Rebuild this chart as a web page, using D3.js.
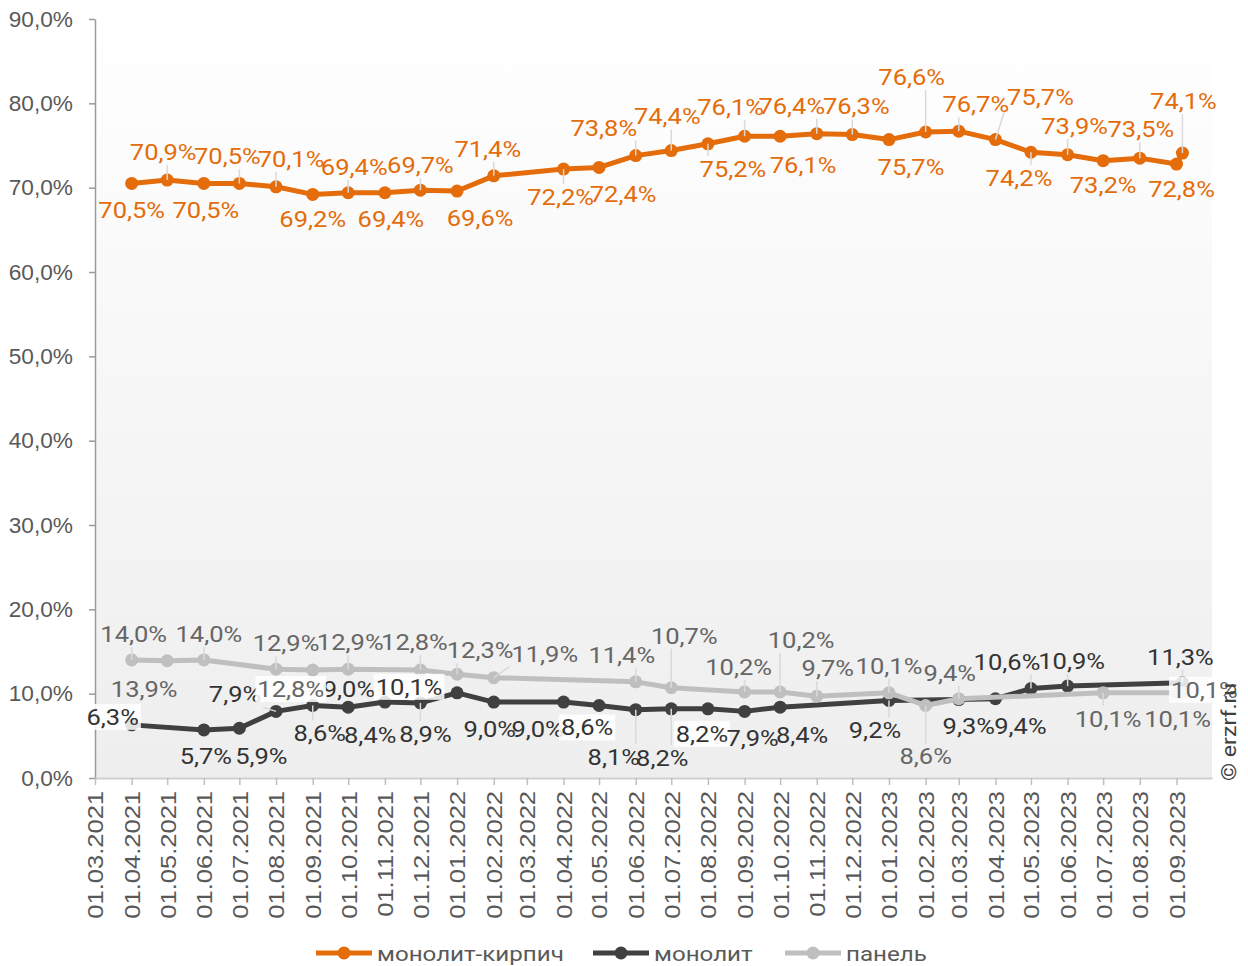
<!DOCTYPE html>
<html>
<head>
<meta charset="utf-8">
<script src="https://cdn.jsdelivr.net/npm/d3@7"></script>
<style>
body { margin: 0; background: #fff; }
svg { display: block; font-family: Roboto, sans-serif; }
</style>
</head>
<body>
<svg id="chart" width="1248" height="966"></svg>
<script>
// axis categories
var tickDates = ['01.03.2021', '01.04.2021', '01.05.2021', '01.06.2021', '01.07.2021', '01.08.2021',
    '01.09.2021', '01.10.2021', '01.11.2021', '01.12.2021', '01.01.2022', '01.02.2022', '01.03.2022',
    '01.04.2022', '01.05.2022', '01.06.2022', '01.07.2022', '01.08.2022', '01.09.2022', '01.10.2022',
    '01.11.2022', '01.12.2022', '01.01.2023', '01.02.2023', '01.03.2023', '01.04.2023', '01.05.2023',
    '01.06.2023', '01.07.2023', '01.08.2023', '01.09.2023'];
var pointDates = tickDates.slice(1).concat(['06.09.2023']);
var yTicks = [0, 10, 20, 30, 40, 50, 60, 70, 80, 90];

// series values, % (null = no point)
var monolitKirpich = [70.5, 70.9, 70.5, 70.5, 70.1, 69.2, 69.4, 69.4, 69.7, 69.6, 71.4, null, 72.2, 72.4,
    73.8, 74.4, 75.2, 76.1, 76.1, 76.4, 76.3, 75.7, 76.6, 76.7, 75.7, 74.2, 73.9, 73.2, 73.5, 72.8, 74.1];
var monolit = [6.3, null, 5.7, 5.9, 7.9, 8.6, 8.4, 9.0, 8.9, 10.1, 9.0, null, 9.0, 8.6,
    8.1, 8.2, 8.2, 7.9, 8.4, null, null, 9.2, null, 9.3, 9.4, 10.6, 10.9, null, null, null, 11.3];
var panel = [14.0, 13.9, 14.0, null, 12.9, 12.8, 12.9, null, 12.8, 12.3, 11.9, null, null, null,
    11.4, 10.7, null, 10.2, 10.2, 9.7, null, 10.1, 8.6, 9.4, null, null, null, 10.1, null, 10.1, 10.1];
var seriesNames = ['монолит-кирпич', 'монолит', 'панель'];

// label placement (offset of label centre from its point)
var kirpichLabelPos = [[0, 27], [-4, -28], [2, 27], [-12, -27], [15, -28], [0, 25], [6, -26], [6, 26],
    [0, -25], [23, 27], [-6, -27], null, [-3, 28], [24, 27], [-32, -28], [-4, -34], [25, 25], [-14, -29],
    [23, 29], [-25, -28], [4, -28], [22, 27], [-14, -55], [17, -27], [45, -43], [-12, 26], [7, -29],
    [0, 24], [1, -29], [5, 25], [1, -52]];
var monolitLabelPos = [[-19, -8], null, [2, 26], [22, 28], [-41, -17], [7, 28], [22, 28], [-36, -13],
    [5, 31], [-48, -6], [-4, 27], null, [-26, 27], [-12, 22], [-22, 47], [-9, 49], [-6, 25], [8, 27],
    [22, 28], null, null, [-14, 30], null, [10, 27], [25, 27], [-24, -27], [4, -25], null, null, null, [-2, -26]];
var panelLabelPos = [[2, -26], [-23, 28], [5, -26], null, [10, -26], [-22, 19], [2, -27], null, [-6, -28],
    [23, -24], [51, -24], null, null, null, [-14, -27], [13, -52], null, [-6, -25], [21, -52], [11, -28],
    null, [0, -27], [0, 51], [-9, -26], null, null, null, [5, 26], null, [1, 26], [22, -3]];
var kirpichLeaders = [1, 3, 4, 6, 8, 10, 12, 14, 15, 16, 17, 19, 20, 22, 23, 24, 25, 26, 28, 30];
var monolitLeaders = [4, 5, 8, 14, 15, 21, 25, 26, 30];
var panelLeaders = [0, 2, 4, 6, 8, 9, 10, 14, 15, 17, 18, 19, 21, 22, 23, 27];
var monolitBoxed = [0, 9, 13, 16];
var panelBoxed = [5, 30];

var parseDate = d3.utcParse('%d.%m.%Y');
var fmt = function(v) { return v.toFixed(1).replace('.', ',') + '%'; };
var S = 1.16; // the source font is wider than Roboto
var SY = 1.03;

var svg = d3.select('#chart');
var plot = {left: 95, right: 1212, top: 19, bottom: 778};

var x = d3.scaleUtc()
    .domain([parseDate('01.03.2021'), parseDate('01.10.2023')])
    .range([plot.left, plot.right]);
var y = d3.scaleLinear()
    .domain([0, 90])
    .range([plot.bottom, plot.top]);

// plot background
var grad = svg.append('defs').append('linearGradient')
    .attr('id', 'bg')
    .attr('x1', 0).attr('y1', 0).attr('x2', 0).attr('y2', 1);
grad.append('stop').attr('offset', '0%').attr('stop-color', '#ffffff');
grad.append('stop').attr('offset', '100%').attr('stop-color', '#eeeeee');
svg.append('rect')
    .attr('x', plot.left).attr('y', plot.top)
    .attr('width', plot.right - plot.left)
    .attr('height', plot.bottom - plot.top)
    .attr('fill', 'url(#bg)');

// axes
var yAxis = svg.append('g')
    .attr('transform', 'translate(' + plot.left + ',0)')
    .call(d3.axisLeft(y).tickValues(yTicks).tickSize(6).tickSizeOuter(0)
        .tickFormat(function(d) { return d.toFixed(1).replace('.', ',') + '%'; }));
yAxis.selectAll('path, line').attr('stroke', '#9a9a9a').attr('stroke-width', 1.5);
yAxis.selectAll('text')
    .attr('fill', '#595959')
    .style('font-size', '22px')
    .attr('x', -22 / SY)
    .attr('transform', 'scale(' + SY + ',1)');

var xAxis = svg.append('g')
    .attr('transform', 'translate(0,' + plot.bottom + ')')
    .call(d3.axisBottom(x).tickValues(tickDates.map(parseDate)).tickSize(7).tickSizeOuter(0)
        .tickFormat(d3.utcFormat('%d.%m.%Y')));
xAxis.select('.domain').attr('stroke', '#cfcfcf').attr('stroke-width', 2);
xAxis.selectAll('.tick line').attr('stroke', '#bfbfbf').attr('stroke-width', 1.5);
xAxis.selectAll('text')
    .attr('fill', '#595959')
    .style('font-size', '22px')
    .style('text-anchor', 'end')
    .attr('transform', 'rotate(-90) scale(' + S + ',1)')
    .attr('x', -13 / S)
    .attr('y', 0)
    .attr('dy', '0.36em');

var series = [
    {name: seriesNames[0], values: monolitKirpich, color: '#e46c0a', text: '#e46c0a',
        pos: kirpichLabelPos, leaders: kirpichLeaders, boxed: []},
    {name: seriesNames[1], values: monolit, color: '#404040', text: '#333333',
        pos: monolitLabelPos, leaders: monolitLeaders, boxed: monolitBoxed},
    {name: seriesNames[2], values: panel, color: '#bfbfbf', text: '#666666',
        pos: panelLabelPos, leaders: panelLeaders, boxed: panelBoxed}
];
series.forEach(function(s) {
    s.points = [];
    s.values.forEach(function(v, i) {
        if (v === null) return;
        s.points.push({i: i, v: v, date: parseDate(pointDates[i])});
    });
});

var line = d3.line()
    .x(function(d) { return x(d.date); })
    .y(function(d) { return y(d.v); });

series.forEach(function(s) {
    var g = svg.append('g');
    g.append('path')
        .datum(s.points)
        .attr('d', line)
        .attr('fill', 'none')
        .attr('stroke', s.color)
        .attr('stroke-width', 5)
        .attr('stroke-linejoin', 'round');
    g.selectAll('circle')
        .data(s.points)
        .enter()
        .append('circle')
        .attr('cx', function(d) { return x(d.date); })
        .attr('cy', function(d) { return y(d.v); })
        .attr('r', 6.5)
        .attr('fill', s.color);
});

// data labels
var leaderLayer = svg.append('g');
var labelLayer = svg.append('g');
series.forEach(function(s) {
    s.points.forEach(function(d) {
        var off = s.pos[d.i];
        var px = x(d.date), py = y(d.v);
        var cx = px + off[0], cy = py + off[1];
        var g = labelLayer.append('g');
        var t = g.append('text')
            .attr('transform', 'translate(' + cx + ',' + cy + ') scale(' + S + ',1)')
            .attr('dy', '0.36em')
            .attr('text-anchor', 'middle')
            .attr('fill', s.text)
            .style('font-size', '22px')
            .text(fmt(d.v));
        var w = t.node().getBBox().width * S;
        var box = {x0: cx - w / 2 - 2, x1: cx + w / 2 + 2, y0: cy - 13, y1: cy + 13};
        if (s.boxed.indexOf(d.i) >= 0) {
            g.insert('rect', 'text')
                .attr('x', box.x0).attr('y', box.y0)
                .attr('width', box.x1 - box.x0).attr('height', box.y1 - box.y0)
                .attr('fill', '#ffffff').attr('fill-opacity', 0.85);
        }
        if (s.leaders.indexOf(d.i) >= 0) {
            var lx = Math.max(box.x0, Math.min(px, box.x1));
            var ly = Math.max(box.y0, Math.min(py, box.y1));
            leaderLayer.append('line')
                .attr('x1', lx).attr('y1', ly)
                .attr('x2', px).attr('y2', py)
                .attr('stroke', '#d9d9d9')
                .attr('stroke-width', 1.5);
        }
    });
});

// legend
var legendItems = [
    {name: seriesNames[0], color: '#e46c0a', x: 316},
    {name: seriesNames[1], color: '#404040', x: 593},
    {name: seriesNames[2], color: '#bfbfbf', x: 785}
];
var legend = svg.append('g').attr('transform', 'translate(0,953)');
legendItems.forEach(function(it) {
    legend.append('line')
        .attr('x1', it.x).attr('x2', it.x + 56)
        .attr('y1', 0).attr('y2', 0)
        .attr('stroke', it.color).attr('stroke-width', 5);
    legend.append('circle')
        .attr('cx', it.x + 28).attr('cy', 0).attr('r', 6.5)
        .attr('fill', it.color);
    legend.append('text')
        .attr('transform', 'translate(' + (it.x + 61) + ',0) scale(1.15,1)')
        .attr('dy', '0.36em')
        .attr('fill', '#595959')
        .style('font-size', '21px')
        .text(it.name);
});

// copyright
svg.append('text')
    .attr('transform', 'translate(1236,781) rotate(-90) scale(1.1,1)')
    .attr('fill', '#404040')
    .style('font-size', '21px')
    .text('© erzrf.ru');
</script>
</body>
</html>
